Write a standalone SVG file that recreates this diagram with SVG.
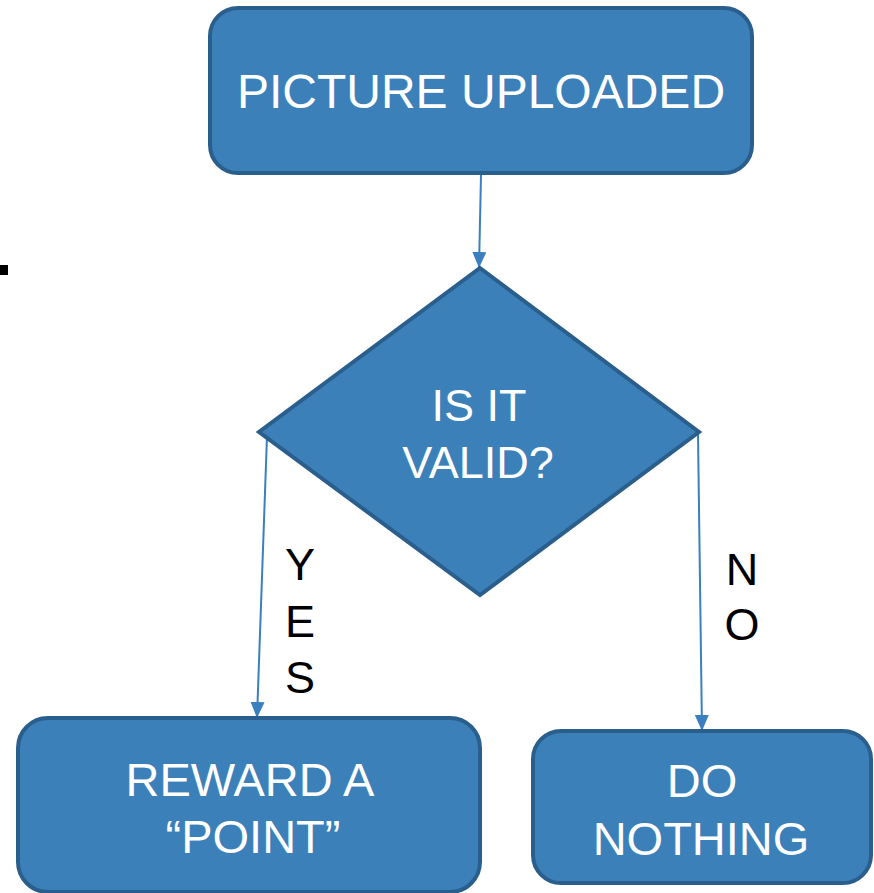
<svg xmlns="http://www.w3.org/2000/svg" width="874" height="893" viewBox="0 0 874 893">
<style>
.box{fill:#3c80b9;stroke:#2a5e8c;stroke-width:4}
.t{font-family:"Liberation Sans",Arial,sans-serif;fill:#ffffff;text-anchor:middle}
.lbl{font-family:"Liberation Sans",Arial,sans-serif;fill:#000000;text-anchor:middle;font-size:45px}
.c{stroke:#3a7fc0;stroke-width:2;fill:none;marker-end:url(#ah)}
</style>
<defs>
<marker id="ah" viewBox="0 0 16 14" refX="16" refY="7" markerWidth="16" markerHeight="14" markerUnits="userSpaceOnUse" orient="auto">
<path d="M0,0 L16,7 L0,14 Z" fill="#3a7fc0"/>
</marker>
</defs>
<rect x="0" y="265" width="8" height="10" fill="#000000"/>
<g id="connectors">
<line class="c" x1="481" y1="175" x2="479" y2="268"/>
<line class="c" x1="267" y1="436" x2="257" y2="718"/>
<line class="c" x1="698" y1="434" x2="702" y2="731"/>
</g>
<g id="picture-uploaded">
<rect class="box" x="210" y="8" width="542" height="165" rx="28"/>
<text class="t" x="481" y="108" font-size="48">PICTURE UPLOADED</text>
</g>
<g id="is-it-valid">
<polygon class="box" points="480,268 699,432 480,595 259,432"/>
<text class="t" x="479" y="421" font-size="45">IS IT</text>
<text class="t" x="478" y="478" font-size="45">VALID?</text>
</g>
<g id="reward">
<rect class="box" x="18" y="718" width="462" height="174" rx="30"/>
<text class="t" x="250" y="796" font-size="47">REWARD A</text>
<text class="t" x="253" y="853" font-size="47">“POINT”</text>
</g>
<g id="do-nothing">
<rect class="box" x="533" y="731" width="338" height="152" rx="28"/>
<text class="t" x="702" y="797" font-size="47">DO</text>
<text class="t" x="701" y="855" font-size="47">NOTHING</text>
</g>
<g id="labels">
<text class="lbl" x="300" y="580">Y</text>
<text class="lbl" x="300" y="637">E</text>
<text class="lbl" x="300" y="693">S</text>
<text class="lbl" x="742" y="585">N</text>
<text class="lbl" x="742" y="640">O</text>
</g>
</svg>
